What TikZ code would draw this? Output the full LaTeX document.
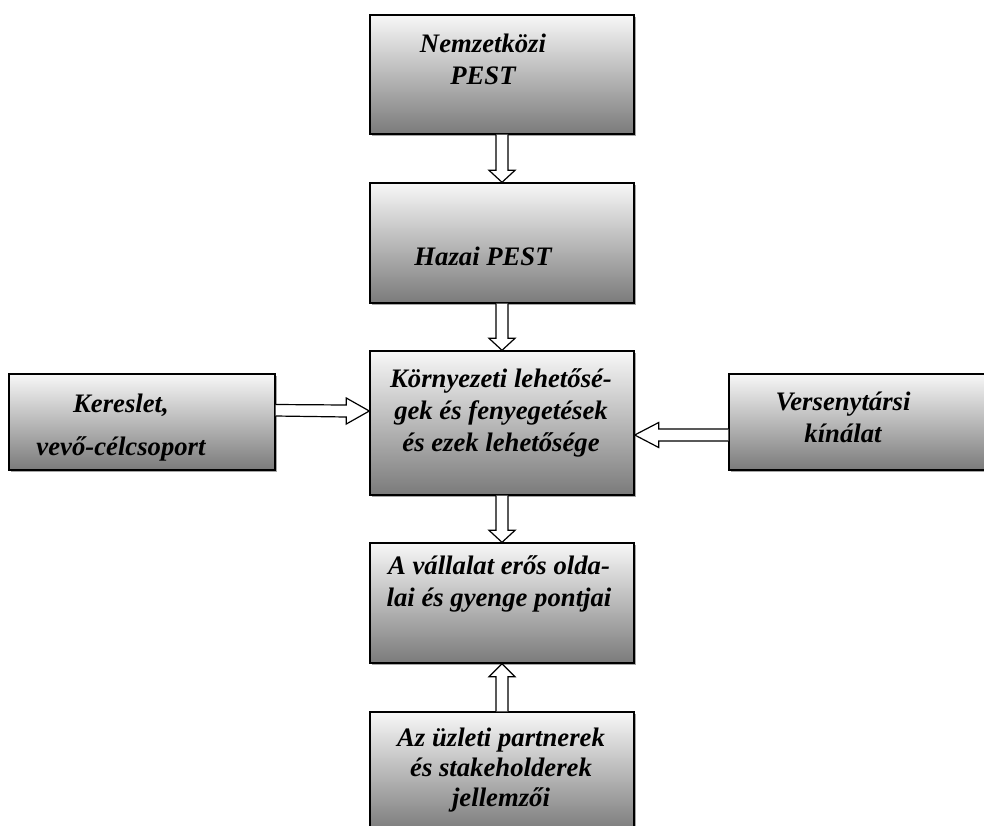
\documentclass[tikz,border=0pt]{standalone}
\usepackage{fontspec}
\setmainfont{Liberation Serif}
\usetikzlibrary{calc,shadows}

\begin{document}
\begin{tikzpicture}[x=1pt,y=-1pt,
  box/.style={draw=black,line width=1.4pt,top color=black!3,bottom color=black!52,minimum width=264pt,inner sep=0pt,drop shadow={shadow xshift=1.6pt,shadow yshift=-1.6pt,fill=black!35,opacity=1}},
  lbl/.style={align=center,inner sep=0pt,font=\fontsize{26.7}{32}\selectfont\bfseries\itshape},
  hollow/.style={draw=black,line width=1.2pt,fill=white,line join=miter}]
  \useasboundingbox (0,0) rectangle (984,825);
  \clip (0,0) rectangle (984,825);
  % central column
  \node[box,minimum height=119pt] (nemz) at (502,74.5) {};
  \node[box,minimum height=120pt] (hazai) at (502,243) {};
  \node[box,minimum height=144pt] (korny) at (502,423) {};
  \node[box,minimum height=120pt] (vall) at (502,603) {};
  \node[box,minimum height=120pt] (uzleti) at (502,772) {};
  % side boxes
  \node[box,minimum width=266pt,minimum height=96pt] (kereslet) at (142,422) {};
  \node[box,minimum width=266pt,minimum height=96pt] (verseny) at (862,422) {};
  % texts
  \node[lbl] (nemz-t) at ($(nemz)+(-19,-15)$) {Nemzetközi\\PEST};
  \node[lbl] (hazai-t) at ($(hazai)+(-19,13)$) {Hazai PEST};
  \node[lbl] (korny-t) at ($(korny)+(-1,-10)$) {Környezeti lehetősé-\\gek és fenyegetések\\és ezek lehetősége};
  \node[lbl] (vall-t) at ($(vall)+(-3,-19)$) {A vállalat erős olda-\\lai és gyenge pontjai};
  \node[lbl,font=\fontsize{26.7}{30}\selectfont\bfseries\itshape] (uzleti-t) at ($(uzleti)+(-1,-2)$) {Az üzleti partnerek\\és stakeholderek\\jellemzői};
  \node[lbl,font=\fontsize{26.7}{43}\selectfont\bfseries\itshape] (kereslet-t) at ($(kereslet)+(-21,6)$) {Kereslet,\\vevő-célcsoport};
  \node[lbl] (verseny-t) at ($(verseny)+(-19,-5)$) {Versenytársi\\kínálat};
  % hollow arrows
  \draw[hollow] ($(nemz.south)+(-6,0)$) -- ($(hazai.north)+(-6,-12)$) -- ($(hazai.north)+(-13,-12)$) -- (hazai.north) -- ($(hazai.north)+(13,-12)$) -- ($(hazai.north)+(6,-12)$) -- ($(nemz.south)+(6,0)$);
  \draw[hollow] ($(hazai.south)+(-6,0)$) -- ($(korny.north)+(-6,-12)$) -- ($(korny.north)+(-13,-12)$) -- (korny.north) -- ($(korny.north)+(13,-12)$) -- ($(korny.north)+(6,-12)$) -- ($(hazai.south)+(6,0)$);
  \draw[hollow] ($(korny.south)+(-6,0)$) -- ($(vall.north)+(-6,-12)$) -- ($(vall.north)+(-13,-12)$) -- (vall.north) -- ($(vall.north)+(13,-12)$) -- ($(vall.north)+(6,-12)$) -- ($(korny.south)+(6,0)$);
  \draw[hollow] ($(uzleti.north)+(-6,0)$) -- ($(vall.south)+(-6,13)$) -- ($(vall.south)+(-13,13)$) -- (vall.south) -- ($(vall.south)+(13,13)$) -- ($(vall.south)+(6,13)$) -- ($(uzleti.north)+(6,0)$);
  \draw[hollow] ($(kereslet.east)+(0,-17.5)$) -- ($(korny.west)+(-23,-18)$) -- ($(korny.west)+(-23,-25)$) -- ($(korny.west)+(0,-12)$) -- ($(korny.west)+(-23,1)$) -- ($(korny.west)+(-23,-6)$) -- ($(kereslet.east)+(0,-6)$);
  \draw[hollow] ($(verseny.west)+(0,7)$) -- ($(korny.east)+(24,6)$) -- ($(korny.east)+(24,-0.5)$) -- ($(korny.east)+(0,12)$) -- ($(korny.east)+(24,24.5)$) -- ($(korny.east)+(24,18)$) -- ($(verseny.west)+(0,19)$);
\end{tikzpicture}
\end{document}
